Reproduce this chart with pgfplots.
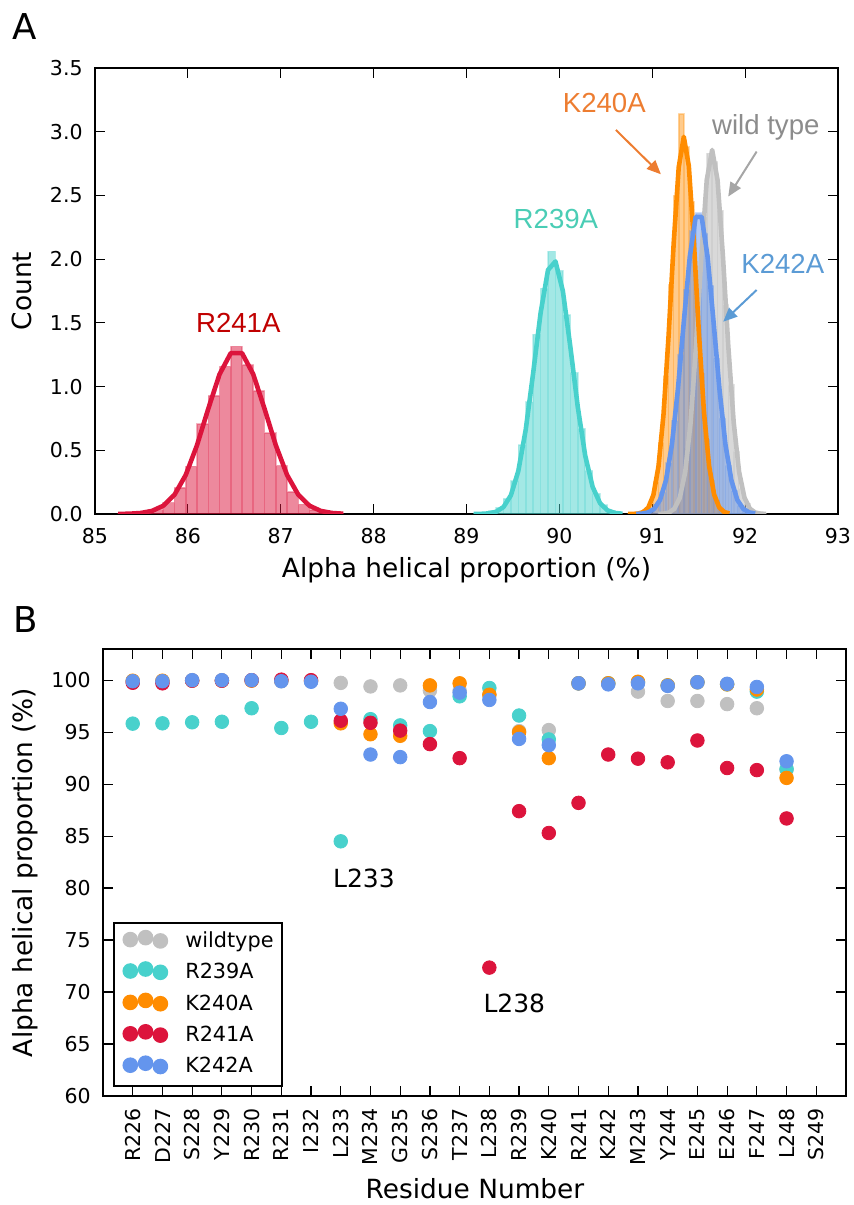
\documentclass[border=0pt]{standalone}
\usepackage{fontspec}
\setmainfont{DejaVu Sans}
\newfontfamily\arialfont{Liberation Sans}
\usepackage{pgfplots}
\pgfplotsset{compat=1.18}
\usetikzlibrary{arrows.meta}
\definecolor{wtgray}{HTML}{C0C0C0}
\definecolor{turq}{HTML}{48D1CC}
\definecolor{dorange}{HTML}{FF8C00}
\definecolor{crim}{HTML}{DC143C}
\definecolor{cblue}{HTML}{6495ED}
\definecolor{t240}{HTML}{ED7D31}
\definecolor{twt}{HTML}{8C8C8C}
\definecolor{awt}{HTML}{A6A6A6}
\definecolor{t239}{HTML}{4ACDB5}
\definecolor{t242}{HTML}{5B9BD5}
\definecolor{t241}{HTML}{C00000}
\begin{document}
\begin{tikzpicture}
\path[use as bounding box] (0,0) rectangle (427pt,602.5pt);
\pgfplotsset{
  common/.style={scale only axis, tick align=inside, major tick length=5pt,
    axis line style={line width=1.3pt},
    tick style={line width=0.6pt, black},
    tick label style={font=\fontsize{10.25}{12}\selectfont},
    /pgf/number format/assume math mode=true,
    label style={font=\fontsize{13.2}{15}\selectfont}},
  bpt/.style={only marks, mark=*, mark size=3.4pt,
    legend image code/.code={\draw[##1, overlay] plot coordinates {(3.5pt,1.05pt) (11.15pt,2.05pt) (18.55pt,0.4pt)};\path (0pt,0pt) (22.05pt,0pt);}}
}
\node[anchor=base west, inner sep=0pt, font=\fontsize{17.8}{20}\selectfont] at (6pt,582.5pt) {A};
\node[anchor=base west, inner sep=0pt, font=\fontsize{17.8}{20}\selectfont] at (6.5pt,286pt) {B};
% ---------------- Panel A ----------------
\begin{axis}[common, at={(47.5pt,345.5pt)}, anchor=south west,
  width=371.5pt, height=223pt,
  xmin=85, xmax=93, ymin=0, ymax=3.5,
  xtick={85,86,87,88,89,90,91,92,93},
  ytick={0,0.5,1,1.5,2,2.5,3,3.5},
  y tick label style={/pgf/number format/fixed, /pgf/number format/fixed zerofill, /pgf/number format/precision=1},
  xticklabel style={inner ysep=6.8pt},
  yticklabel style={inner xsep=6pt},
  xlabel={Alpha helical proportion (\%)}, ylabel={Count},
  xlabel style={at={(axis description cs:0.5,-0.1256)}, anchor=center},
  ylabel style={at={(axis description cs:-0.0983,0.5)}, anchor=center}]
% R241A histogram and fit
\addplot[ybar interval, fill=crim, fill opacity=0.5, draw=crim, draw opacity=0.3, line width=0.8pt] coordinates {
(85.250,0.005) (85.371,0.010) (85.492,0.020) (85.614,0.035) (85.735,0.090) (85.856,0.206) (85.977,0.373) (86.098,0.706) (86.220,0.928) (86.341,1.158) (86.462,1.315) (86.583,1.171) (86.704,0.967) (86.825,0.635) (86.947,0.379) (87.068,0.173) (87.189,0.075) (87.310,0.030) (87.431,0.010) (87.553,0.004) (87.674,0.004)};
\addplot[crim, line width=2.3pt, line join=round] coordinates {
(85.250,0.0005) (85.371,0.0021) (85.492,0.0077) (85.614,0.0240) (85.735,0.0646) (85.856,0.1509) (85.977,0.3061) (86.098,0.5389) (86.220,0.8266) (86.341,1.0963) (86.462,1.2625) (86.583,1.2625) (86.704,1.0963) (86.825,0.8266) (86.947,0.5389) (87.068,0.3061) (87.189,0.1509) (87.310,0.0646) (87.431,0.0240) (87.553,0.0077) (87.674,0.0021)};
% R239A histogram and fit
\addplot[ybar interval, fill=turq, fill opacity=0.5, draw=turq, draw opacity=0.3, line width=0.8pt] coordinates {
(89.078,0.003) (89.158,0.008) (89.238,0.025) (89.318,0.050) (89.398,0.120) (89.478,0.260) (89.558,0.540) (89.638,0.880) (89.718,1.410) (89.798,1.770) (89.878,2.060) (89.958,1.910) (90.038,1.560) (90.118,1.110) (90.198,0.670) (90.278,0.340) (90.358,0.160) (90.438,0.070) (90.518,0.025) (90.598,0.008) (90.678,0.008)};
\addplot[turq, line width=2.3pt, line join=round] coordinates {
(89.078,0.0002) (89.158,0.0011) (89.238,0.0046) (89.318,0.0171) (89.398,0.0542) (89.478,0.1466) (89.558,0.3375) (89.638,0.6624) (89.718,1.1074) (89.798,1.5779) (89.878,1.9156) (89.958,1.9819) (90.038,1.7472) (90.118,1.3127) (90.198,0.8403) (90.278,0.4584) (90.358,0.2131) (90.438,0.0844) (90.518,0.0285) (90.598,0.0082) (90.678,0.0020)};
% wild type histogram
\addplot[ybar interval, fill=wtgray, fill opacity=0.6, draw=wtgray, draw opacity=0.4, line width=0.8pt] coordinates {
(91.065,0.001) (91.123,0.006) (91.181,0.024) (91.239,0.070) (91.297,0.210) (91.355,0.510) (91.413,0.970) (91.471,1.690) (91.529,2.330) (91.587,2.830) (91.645,2.760) (91.703,2.380) (91.761,1.640) (91.819,1.010) (91.877,0.490) (91.935,0.200) (91.993,0.080) (92.051,0.020) (92.109,0.005) (92.167,0.001) (92.225,0.001)};
% K240A histogram
\addplot[ybar interval, fill=dorange, fill opacity=0.45, draw=dorange, draw opacity=0.3, line width=0.8pt] coordinates {
(90.7400,0.002) (90.7945,0.004) (90.8490,0.010) (90.9035,0.030) (90.9580,0.090) (91.0125,0.250) (91.0670,0.560) (91.1215,1.080) (91.1760,1.800) (91.2305,2.500) (91.2850,3.140) (91.3395,2.880) (91.3940,2.450) (91.4485,1.800) (91.5030,1.100) (91.5575,0.580) (91.6120,0.260) (91.6665,0.100) (91.7210,0.030) (91.7755,0.008) (91.8300,0.008)};
% K242A histogram
\addplot[ybar interval, fill=cblue, fill opacity=0.5, draw=cblue, draw opacity=0.3, line width=0.8pt] coordinates {
(90.828,0.002) (90.892,0.007) (90.956,0.024) (91.020,0.070) (91.084,0.170) (91.148,0.400) (91.212,0.730) (91.276,1.250) (91.340,1.760) (91.404,2.220) (91.468,2.360) (91.532,2.200) (91.596,1.790) (91.660,1.220) (91.724,0.750) (91.788,0.380) (91.852,0.180) (91.916,0.065) (91.980,0.022) (92.044,0.006) (92.108,0.006)};
% fits
\addplot[wtgray, line width=2.3pt, line join=round] coordinates {
(91.065,0.0005) (91.123,0.0026) (91.181,0.0114) (91.239,0.0416) (91.297,0.1278) (91.355,0.3302) (91.413,0.7181) (91.471,1.3139) (91.529,2.0230) (91.587,2.6208) (91.645,2.857) (91.703,2.6208) (91.761,2.0230) (91.819,1.3139) (91.877,0.7181) (91.935,0.3302) (91.993,0.1278) (92.051,0.0416) (92.109,0.0114) (92.167,0.0026) (92.225,0.0005)};
\addplot[dorange, line width=2.3pt, line join=round] coordinates {
(90.7400,0.0001) (90.7945,0.0007) (90.8490,0.0036) (90.9035,0.0147) (90.9580,0.0509) (91.0125,0.1493) (91.0670,0.3716) (91.1215,0.7833) (91.1760,1.3997) (91.2305,2.1197) (91.2850,2.7209) (91.3395,2.96) (91.3940,2.7292) (91.4485,2.1328) (91.5030,1.4125) (91.5575,0.7929) (91.6120,0.3773) (91.6665,0.1521) (91.7210,0.0520) (91.7755,0.0151) (91.8300,0.0037)};
\addplot[cblue, line width=2.3pt, line join=round] coordinates {
(90.828,0.0008) (90.892,0.0034) (90.956,0.0125) (91.020,0.0401) (91.084,0.1107) (91.148,0.2645) (91.212,0.5464) (91.276,0.9764) (91.340,1.5091) (91.404,2.0172) (91.468,2.332) (91.532,2.332) (91.596,2.0172) (91.660,1.5091) (91.724,0.9764) (91.788,0.5464) (91.852,0.2645) (91.916,0.1107) (91.980,0.0401) (92.044,0.0125) (92.108,0.0034)};
% annotations
\node[font=\arialfont\fontsize{13.8}{16}\selectfont, text=t240, anchor=base] at (axis cs:90.484,3.147) {K240A};
\node[font=\arialfont\fontsize{13.8}{16}\selectfont, text=twt, anchor=base] at (axis cs:92.223,2.98) {wild type};
\node[font=\arialfont\fontsize{13.8}{16}\selectfont, text=t242, anchor=base] at (axis cs:92.406,1.888) {K242A};
\node[font=\arialfont\fontsize{13.8}{16}\selectfont, text=t239, anchor=base] at (axis cs:89.963,2.243) {R239A};
\node[font=\arialfont\fontsize{13.8}{16}\selectfont, text=t241, anchor=base] at (axis cs:86.543,1.424) {R241A};
\draw[t240, line width=1pt, -{Triangle[length=7pt,width=6pt]}] (axis cs:90.608,3.014) -- (axis cs:91.093,2.666);
\draw[awt, line width=1pt, -{Triangle[length=7pt,width=6pt]}] (axis cs:92.124,2.844) -- (axis cs:91.818,2.491);
\draw[t242, line width=1pt, -{Triangle[length=7pt,width=6pt]}] (axis cs:92.124,1.758) -- (axis cs:91.764,1.509);
\end{axis}
% ---------------- Panel B ----------------
\begin{axis}[common, at={(51.5pt,54.5pt)}, anchor=south west,
  width=371.5pt, height=223.5pt,
  xmin=-1, xmax=24, ymin=60, ymax=103,
  xtick={0,1,2,3,4,5,6,7,8,9,10,11,12,13,14,15,16,17,18,19,20,21,22,23},
  xticklabels={R226,D227,S228,Y229,R230,R231,I232,L233,M234,G235,S236,T237,L238,R239,K240,R241,K242,M243,Y244,E245,E246,F247,L248,S249},
  ytick={60,65,70,75,80,85,90,95,100},
  xticklabel style={rotate=90, anchor=east, inner xsep=6pt},
  yticklabel style={inner xsep=6pt},
  xlabel={Residue Number}, ylabel={Alpha helical proportion (\%)},
  xlabel style={at={(axis description cs:0.5007,-0.208)}, anchor=center},
  ylabel style={at={(axis description cs:-0.105,0.5)}, anchor=center},
  legend cell align=left,
  legend style={at={(axis description cs:0.01346,0.0201)}, anchor=south west,
    draw=black, line width=1pt, inner xsep=4.15pt, inner ysep=4.6pt,
    row sep=6.2pt, column sep=8.45pt,
    font=\fontsize{10.4}{12}\selectfont,
    nodes={inner sep=0pt, text height=7.5pt, text depth=2pt}}]
\addplot[bpt, color=wtgray, mark options={fill=wtgray}] coordinates {
(0,99.9) (1,99.9) (2,100.0) (3,100.0) (4,100.0) (5,99.9) (6,99.9) (7,99.74) (8,99.4) (9,99.5) (10,99.0) (11,99.0) (12,98.6) (13,95.1) (14,95.2) (15,99.7) (16,99.7) (17,98.9) (18,98.0) (19,98.0) (20,97.7) (21,97.3) (22,91.4)};
\addlegendentry{wildtype}
\addplot[bpt, color=turq, mark options={fill=turq}] coordinates {
(0,95.82) (1,95.85) (2,95.95) (3,96.0) (4,97.3) (5,95.4) (6,96.0) (7,84.5) (8,96.25) (9,95.65) (10,95.1) (11,98.45) (12,99.25) (13,96.6) (14,94.3) (15,99.7) (16,99.7) (17,99.8) (18,99.5) (19,99.8) (20,99.6) (21,98.9) (22,91.45)};
\addlegendentry{R239A}
\addplot[bpt, color=dorange, mark options={fill=dorange}] coordinates {
(0,99.95) (1,99.95) (2,99.95) (3,99.95) (4,99.95) (5,99.95) (6,99.95) (7,95.85) (8,94.8) (9,94.65) (10,99.5) (11,99.7) (12,98.6) (13,95.0) (14,92.5) (15,99.7) (16,99.7) (17,99.85) (18,99.5) (19,99.8) (20,99.6) (21,99.1) (22,90.6)};
\addlegendentry{K240A}
\addplot[bpt, color=crim, mark options={fill=crim}] coordinates {
(0,99.75) (1,99.7) (2,99.95) (3,99.95) (4,100.0) (5,100.05) (6,100.0) (7,96.1) (8,95.9) (9,95.15) (10,93.85) (11,92.5) (12,72.35) (13,87.4) (14,85.3) (15,88.2) (16,92.85) (17,92.45) (18,92.1) (19,94.2) (20,91.55) (21,91.35) (22,86.7)};
\addlegendentry{R241A}
\addplot[bpt, color=cblue, mark options={fill=cblue}] coordinates {
(0,99.9) (1,99.9) (2,100.0) (3,100.0) (4,100.0) (5,99.9) (6,99.85) (7,97.25) (8,92.85) (9,92.6) (10,97.9) (11,98.8) (12,98.1) (13,94.35) (14,93.75) (15,99.7) (16,99.6) (17,99.7) (18,99.45) (19,99.8) (20,99.65) (21,99.35) (22,92.2)};
\addlegendentry{K242A}
\node[font=\fontsize{12.5}{14}\selectfont, anchor=base] at (axis cs:7.78,80.02) {L233};
\node[font=\fontsize{12.5}{14}\selectfont, anchor=base] at (axis cs:12.84,68.03) {L238};
\end{axis}
\end{tikzpicture}
\end{document}
